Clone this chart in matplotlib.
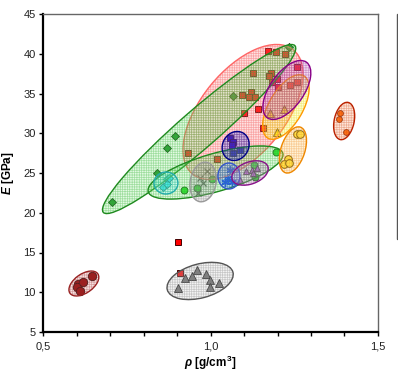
import numpy as np
import matplotlib
matplotlib.use("Agg")
import matplotlib.pyplot as plt
from matplotlib.patches import Ellipse, Rectangle
from matplotlib.transforms import Affine2D
from matplotlib.ticker import MultipleLocator, FuncFormatter

plt.rcParams['font.family'] = ['Liberation Sans', 'DejaVu Sans']
plt.rcParams['mathtext.fontset'] = 'custom'
plt.rcParams['mathtext.bfit'] = 'Liberation Sans:italic:bold'
plt.rcParams['mathtext.rm'] = 'Liberation Sans:bold'
plt.rcParams['hatch.linewidth'] = 0.5

# --- Datos (densidad en g/cm3, modulo E en GPa)
red_sq_x = [1.172, 1.196, 1.222, 1.126, 1.181, 1.175, 1.199, 1.183, 1.121, 1.093,
            1.115, 1.134, 1.143, 1.100, 1.156, 1.020, 0.934, 0.904, 0.909,
            1.259, 1.202, 1.237, 1.257]
red_sq_y = [40.3, 40.2, 40.0, 37.6, 37.6, 37.2, 36.8, 36.5, 35.2, 34.8,
            34.5, 34.5, 33.0, 32.5, 30.7, 26.7, 27.5, 16.3, 12.4,
            38.3, 35.8, 36.1, 36.5]

green_dia_x = [0.707, 0.839, 0.869, 0.894, 1.066, 1.233]
green_dia_y = [21.4, 25.0, 28.2, 29.7, 34.7, 40.8]

cyan_dia_x = [0.869, 0.859, 0.871, 0.875]
cyan_dia_y = [24.2, 23.3, 23.6, 24.4]

green_circ_x = [0.922, 0.959, 1.004, 1.131, 1.133, 1.196]
green_circ_y = [22.9, 23.1, 24.3, 26.0, 24.5, 27.6]

grey_x_x = [0.989, 0.979, 0.964, 0.970]
grey_x_y = [25.2, 23.7, 22.5, 24.4]

blue_ast_x = [1.058, 1.043, 1.052, 1.063]
blue_ast_y = [25.4, 23.9, 24.4, 23.9]

purple_tri_x = [1.106, 1.123, 1.138, 1.088, 1.127]
purple_tri_y = [25.2, 25.4, 25.6, 24.1, 25.0]

navy_sq_x = [1.058, 1.066, 1.063, 1.068, 1.088]
navy_sq_y = [29.4, 28.9, 28.5, 27.5, 27.9]

yellow_tri_x = [1.178, 1.220, 1.199]
yellow_tri_y = [32.5, 33.1, 30.2]

yellow_circ_x = [1.257, 1.267, 1.230, 1.220, 1.234]
yellow_circ_y = [29.9, 29.9, 26.7, 26.1, 26.2]

orange_dia_x = [1.387, 1.383, 1.404]
orange_dia_y = [32.5, 31.8, 30.2]

brown_circ_x = [0.605, 0.602, 0.610, 0.620, 0.645]
brown_circ_y = [11.1, 10.6, 10.2, 11.3, 12.0]

grey_tri_x = [0.904, 0.924, 0.944, 0.959, 0.987, 0.999, 0.999, 1.026]
grey_tri_y = [10.5, 11.8, 12.1, 12.8, 12.3, 11.5, 10.7, 11.2]

# --- Elipses de agrupacion: centro (datos), semiejes (px), angulo (grados)
ell_cx = [1.097, 0.966, 1.225, 1.228, 1.015, 0.978, 1.055, 1.118, 1.075, 0.867,
          1.246, 1.399, 0.622, 0.969]
ell_cy = [32.67, 30.53, 33.3, 35.44, 25.06, 23.87, 24.62, 25.0, 28.4, 23.74,
          27.9, 31.54, 11.1, 11.42]
ell_a = [80, 127, 36, 34, 70, 20, 13, 19, 15, 12, 24, 19, 17, 34]
ell_b = [42, 19, 17, 17, 19, 13, 11, 11, 13, 11, 12, 10, 9.5, 17]
ell_ang = [51, 41, 60, 55, 16, 80, 90, 20, 60, 0, 72, 78, 35, 15]

# estilos de las elipses: (relleno, trama, borde)
ell_style = [
    ('#ff8888', '#ee3333', '#ff6666'),
    ('#88ee88', '#22aa22', '#1f8a1f'),
    ('#ffff44', '#ddcc00', '#ff9900'),
    ('#cc66cc', '#882288', '#880088'),
    ('#88ee88', '#22aa22', '#1f8a1f'),
    ('#aaaaaa', '#777777', '#999999'),
    ('#5588ff', '#2255dd', '#3355cc'),
    ('#cc99cc', '#885588', '#881188'),
    ('#3333dd', '#111199', '#000088'),
    ('#88ffff', '#22bbbb', '#22aaaa'),
    ('#ffcc55', '#ee8822', '#ee8800'),
    ('#ff9966', '#cc4411', '#bb2200'),
    ('#dd8888', '#992222', '#992222'),
    ('#d0d0d0', '#777777', '#555555'),
]

# --- Figura
W, H, DPI = 3.98, 3.78, 100
fig = plt.figure(figsize=(W, H), dpi=DPI)
ax = fig.add_axes([43 / 398, 1 - 332 / 378, 335 / 398, 318 / 378])
ax.set_xlim(0.5, 1.5)
ax.set_ylim(5, 45)

# marcadores (debajo de las elipses, que son semitransparentes)
ax.plot(red_sq_x, red_sq_y, 's', ms=5, mfc='#ff0000', mec='#440000', mew=0.7, zorder=2)
ax.plot(green_dia_x, green_dia_y, 'D', ms=3.6, mfc='#1e8e2a', mec='#062d06', mew=0.6, zorder=2)
ax.plot(cyan_dia_x, cyan_dia_y, 'D', ms=3.6, mfc='#22ddff', mec='#005566', mew=0.6, zorder=2)
ax.plot(green_circ_x, green_circ_y, 'o', ms=5, mfc='#22dd22', mec='#004400', mew=0.6, zorder=2)
ax.plot(grey_x_x, grey_x_y, 'x', ms=5, color='#444444', mew=0.9, zorder=2)
ax.plot(blue_ast_x, blue_ast_y, marker=(6, 2, 0), ls='none', ms=6, color='#0022ff', mew=1.0, zorder=2)
ax.plot(purple_tri_x, purple_tri_y, '^', ms=5, mfc='#cc44ee', mec='#330033', mew=0.6, zorder=2)
ax.plot(navy_sq_x, navy_sq_y, 's', ms=5, mfc='#0000dd', mec='#000033', mew=0.6, zorder=2)
ax.plot(yellow_tri_x, yellow_tri_y, '^', ms=5.5, mfc='#ffff00', mec='#222200', mew=0.7, zorder=2)
ax.plot(yellow_circ_x, yellow_circ_y, 'o', ms=5.5, mfc='#ffee44', mec='#554400', mew=0.7, zorder=2)
ax.plot(orange_dia_x, orange_dia_y, 'o', ms=4.2, mfc='#ff6600', mec='#772200', mew=0.6, zorder=2)
ax.plot(brown_circ_x, brown_circ_y, 'o', ms=6, mfc='#880000', mec='#220000', mew=0.7, zorder=2)
ax.plot(grey_tri_x, grey_tri_y, '^', ms=6, mfc='#6a6a6a', mec='#111111', mew=0.6, zorder=2)

# elipses definidas en pixeles alrededor de un centro en datos
ax_w_px = W * DPI * 335 / 398
ax_h_px = H * DPI * 318 / 378
sx = 1.0 / ax_w_px
sy = 40.0 / ax_h_px
for i in range(len(ell_cx)):
    fc, hc, ec = ell_style[i]
    tr = Affine2D().scale(sx, sy).translate(ell_cx[i], ell_cy[i]) + ax.transData
    geo = dict(xy=(0, 0), width=2 * ell_a[i], height=2 * ell_b[i], angle=ell_ang[i], transform=tr)
    z = 3 + i * 0.01
    ax.add_patch(Ellipse(**geo, facecolor=fc, edgecolor='none', alpha=0.24, zorder=z))
    ax.add_patch(Ellipse(**geo, facecolor='none', edgecolor=hc, lw=0, hatch='+++++++',
                         alpha=0.35, zorder=z))
    ax.add_patch(Ellipse(**geo, facecolor='none', edgecolor=ec, lw=1.0, zorder=z))

# --- Ejes
ax.xaxis.set_major_locator(MultipleLocator(0.5))
ax.xaxis.set_minor_locator(MultipleLocator(0.1))
ax.yaxis.set_major_locator(MultipleLocator(5))
ax.xaxis.set_major_formatter(FuncFormatter(lambda v, p: f"{v:.1f}".replace('.', ',')))
ax.tick_params(axis='both', which='both', direction='out', length=2.8, width=1,
               labelsize=8, colors='black', labelcolor='#222222')
ax.tick_params(axis='x', which='major', pad=4)
ax.tick_params(axis='y', pad=2.5)
for s in ['left', 'bottom']:
    ax.spines[s].set_linewidth(1.6)
    ax.spines[s].set_color('black')
for s in ['top', 'right']:
    ax.spines[s].set_linewidth(1.0)
    ax.spines[s].set_color('#666666')

ax.set_xlabel(r'$\mathbfit{ρ}$ [g/cm$^{3}$]', fontsize=8.5, fontweight='bold', labelpad=1.5)
ax.set_ylabel(r'$\mathbfit{E}$ [GPa]', fontsize=8.5, fontweight='bold', labelpad=5)

# recuadro de leyenda (cortado en el borde derecho)
fig.patches.append(Rectangle((396.5 / 398, 1 - 239 / 378), 0.2, 225 / 378, transform=fig.transFigure,
                             fill=False, edgecolor='#555555', lw=1.0, clip_on=False))

fig.savefig("out.png", dpi=DPI)
